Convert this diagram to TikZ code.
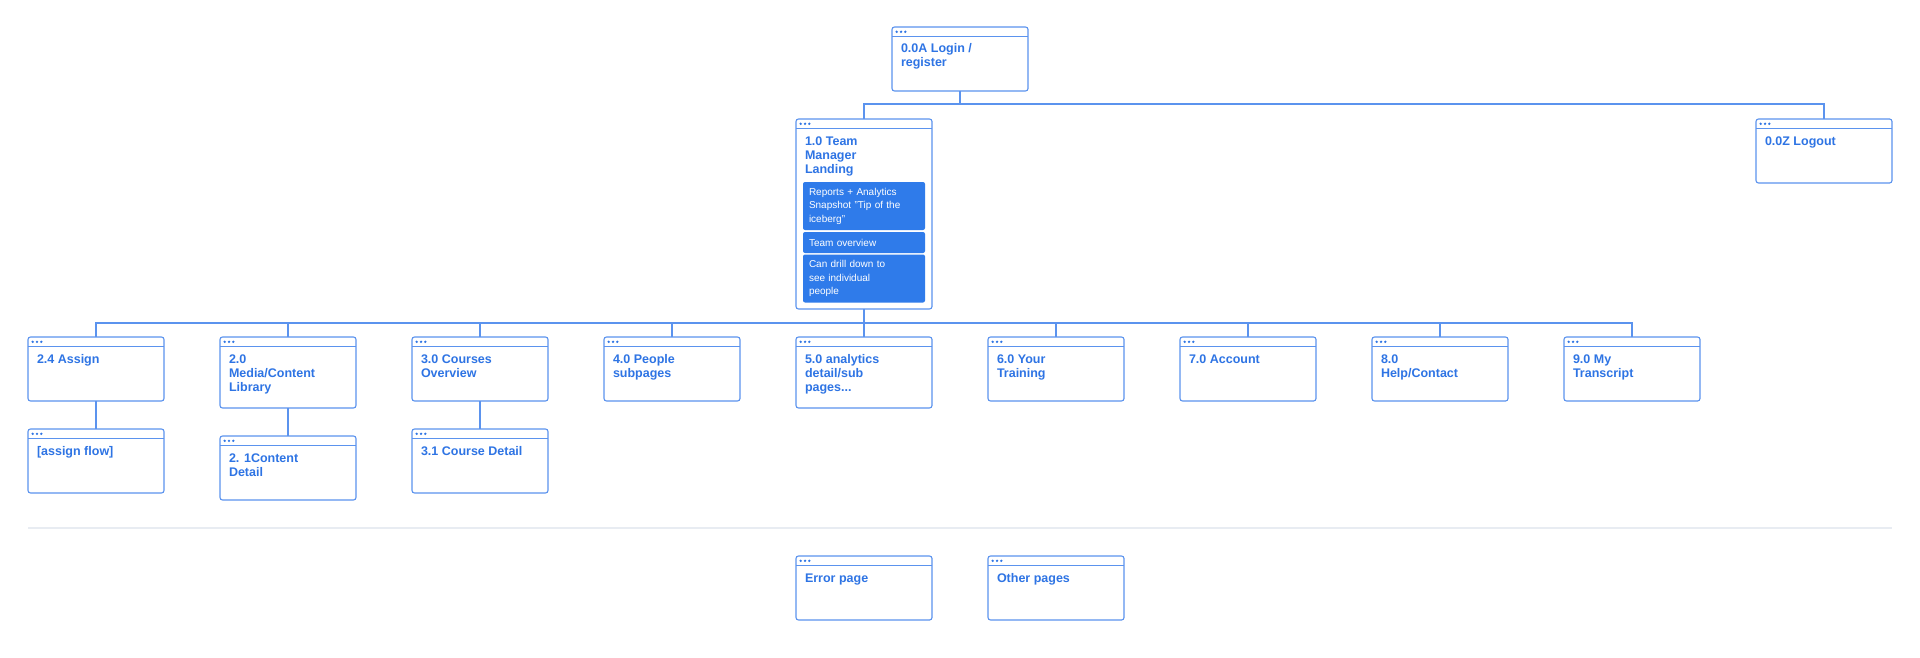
\documentclass[tikz,border=0pt]{standalone}
\usepackage{fontspec}
\setmainfont{Liberation Sans}
\usepackage{xcolor}
\usetikzlibrary{positioning}

\definecolor{pgline}{HTML}{5B93EE}
\definecolor{pgtext}{HTML}{2E74E4}
\definecolor{pgfill}{HTML}{2F7BEA}
\definecolor{pgrule}{HTML}{E8ECF2}

% page card contents: title at the top left
\newcommand{\pg}[2][64pt]{\parbox[c][#1][t]{136pt}{\raggedright\leftskip=9pt
  \fontsize{12.5}{14}\selectfont\bfseries\rule{0pt}{26pt}#2}}

\begin{document}
\begin{tikzpicture}[
    box/.style={draw=pgline, line width=1.1pt, rounded corners=2.5pt, fill=white,
                text=pgtext, inner sep=0pt, outer sep=0pt,
                minimum width=136pt, minimum height=64pt,
                path picture={
                  \draw[pgline, line width=1.1pt]
                    ([yshift=-9.5pt]path picture bounding box.north west) --
                    ([yshift=-9.5pt]path picture bounding box.north east);
                  \foreach \dx in {4.7,9,13.3}
                    \fill[pgtext] ([xshift=\dx pt, yshift=-4.8pt]path picture bounding box.north west) circle (1.3pt);
                }},
    note/.style={fill=pgfill, rounded corners=2pt, text=white, align=left,
                 text width=110pt, inner xsep=6pt, inner ysep=0pt, outer sep=0pt,
                 minimum width=122pt, font=\fontsize{10}{13.5}\selectfont},
    link/.style={draw=pgline, line width=1.1pt},
    divider/.style={draw=pgrule, line width=1.2pt},
    node distance=28pt and 56pt
  ]
  \useasboundingbox (0,0) rectangle (1920pt,-658pt);

  % Top: entry and exit
  \node[box] (login) at (960pt,-59pt) {\pg{0.0A Login /\\register}};
  \node[box, below=28pt of login, xshift=-96pt] (team) {\pg[190pt]{1.0 Team\\Manager\\Landing}};
  \node[box, anchor=north] (logout) at (1824pt,-119pt) {\pg{0.0Z Logout}};

  % Landing page sections
  \node[note, minimum height=48pt, below=63pt of team.north] (reports)
    {Reports + Analytics\\Snapshot "Tip of the\\iceberg"};
  \node[note, minimum height=21pt, below=2pt of reports] (overview) {Team overview};
  \node[note, minimum height=48pt, below=1.5pt of overview] (drill)
    {Can drill down to\\see individual\\people};

  % Second level pages
  \node[box, below=28pt of team] (analytics) {\pg[71pt]{5.0 analytics\\detail/sub\\pages...}};
  \node[box, left=56pt of analytics.north west, anchor=north east] (people) {\pg{4.0 People\\subpages}};
  \node[box, left=56pt of people.north west, anchor=north east] (courses) {\pg{3.0 Courses\\Overview}};
  \node[box, left=56pt of courses.north west, anchor=north east] (media) {\pg[71pt]{2.0\\Media/Content\\Library}};
  \node[box, left=56pt of media.north west, anchor=north east] (assign) {\pg{2.4 Assign}};
  \node[box, right=56pt of analytics.north east, anchor=north west] (training) {\pg{6.0 Your\\Training}};
  \node[box, right=56pt of training.north east, anchor=north west] (account) {\pg{7.0 Account}};
  \node[box, right=56pt of account.north east, anchor=north west] (help) {\pg{8.0\\Help/Contact}};
  \node[box, right=56pt of help.north east, anchor=north west] (transcript) {\pg{9.0 My\\Transcript}};

  % Third level pages
  \node[box, below=of assign] (flow) {\pg{[assign flow]}};
  \node[box, below=of media] (detail) {\pg{2. 1Content\\Detail}};
  \node[box, below=of courses] (coursedetail) {\pg{3.1 Course Detail}};

  % Loose pages
  \node[box, below=148pt of analytics] (error) {\pg{Error page}};
  \node[box, right=56pt of error] (other) {\pg{Other pages}};

  % Links
  \draw[link] (login.south) -- ++(0,-13pt) -| (team.north);
  \draw[link] (login.south) -- ++(0,-13pt) -| (logout.north);
  \foreach \n in {assign,media,courses,people,analytics,training,account,help,transcript}
    \draw[link] (team.south) -- ++(0,-14pt) -| (\n.north);
  \draw[link] (assign) -- (flow);
  \draw[link] (media) -- (detail);
  \draw[link] (courses) -- (coursedetail);

  % Divider
  \draw[divider] (assign.west |- 0,-528pt) -- (logout.east |- 0,-528pt);
\end{tikzpicture}
\end{document}
